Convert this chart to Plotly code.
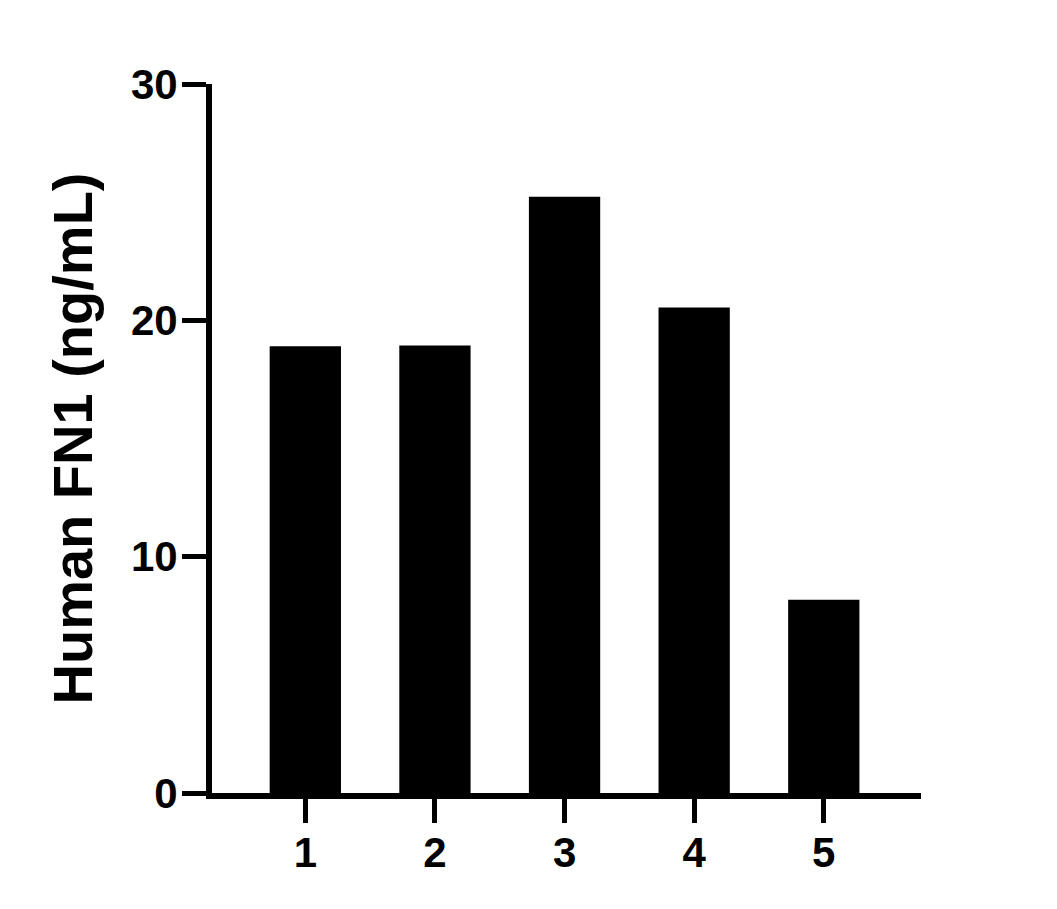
import plotly.graph_objects as go

# sample number and measured concentration
samples = [1, 2, 3, 4, 5]
fn1_ng_ml = [18.9, 18.93, 25.23, 20.54, 8.18]

y_ticks = [0, 10, 20, 30]
y_title = "Human FN1 (ng/mL)"

FONT = "Liberation Sans, Arial, sans-serif"

fig = go.Figure()
fig.add_trace(go.Bar(x=samples, y=fn1_ng_ml, width=0.55,
                     marker=dict(color="black", line=dict(width=0))))

# page body has an 8px margin, so the figure is sized to fit inside it
fig.update_layout(
    width=1041, height=893,
    margin={"l": 204, "r": 128, "t": 76, "b": 108},
    plot_bgcolor="white", paper_bgcolor="white",
    showlegend=False,
    font=dict(family=FONT, color="black", size=42, weight=700),
)
fig.update_xaxes(range=[0.28, 5.75], tickvals=samples, ticktext=[str(s) for s in samples],
                 showgrid=False, zeroline=False, showline=True, linecolor="black", linewidth=6,
                 ticks="outside", ticklen=24, tickwidth=5, tickcolor="black",
                 tickfont=dict(family=FONT, size=42, weight=700), ticklabelstandoff=-6)
fig.update_yaxes(range=[0, 30], tickvals=y_ticks,
                 showgrid=False, zeroline=False, showline=True, linecolor="black", linewidth=6,
                 ticks="outside", ticklen=24, tickwidth=5, tickcolor="black",
                 tickfont=dict(family=FONT, size=42, weight=700), ticklabelstandoff=-4,
                 title=dict(text=y_title, font=dict(family=FONT, size=56, weight=700), standoff=22))

fig.write_html("out.html")
